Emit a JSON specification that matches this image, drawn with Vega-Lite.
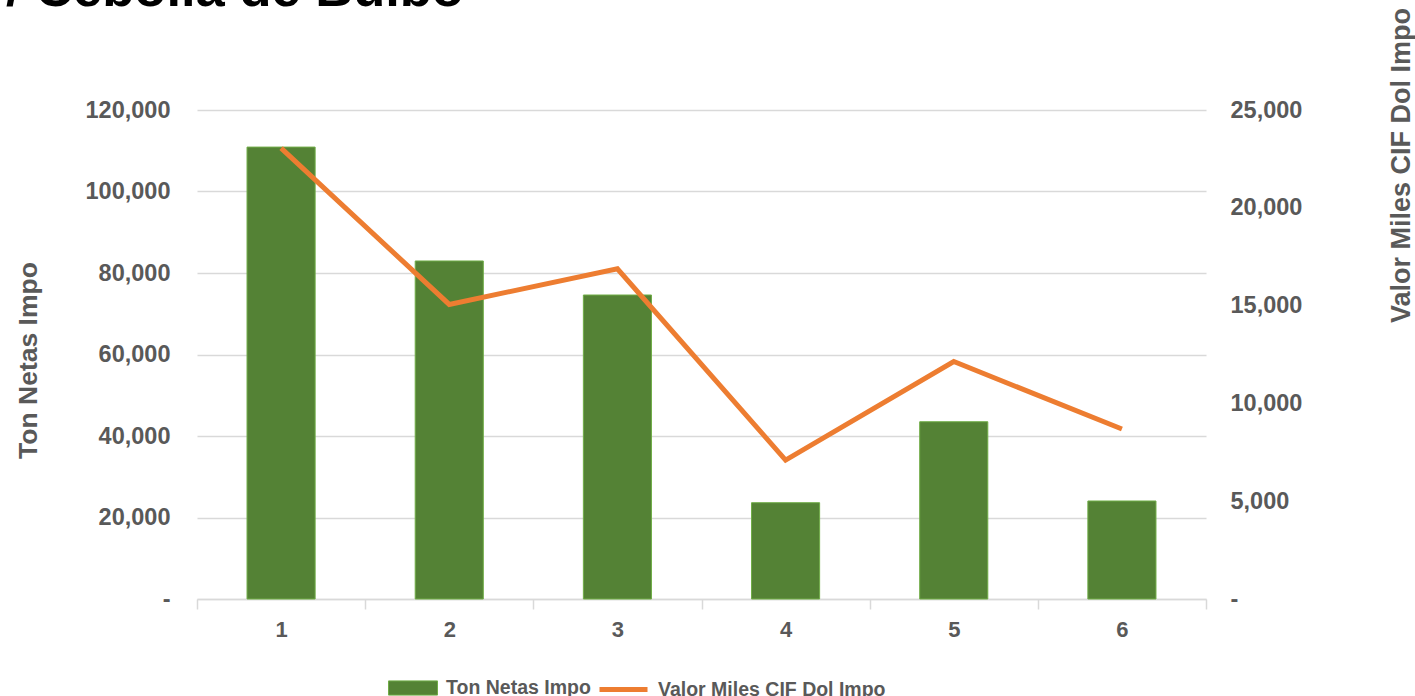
{
  "$schema": "https://vega.github.io/schema/vega-lite/v6.json",
  "width": 1009,
  "height": 489,
  "autosize": "none",
  "padding": {"left": 197, "top": 110, "right": 209, "bottom": 97},
  "background": "white",
  "title": {
    "text": "/ Cebolla de Bulbo",
    "anchor": "start",
    "frame": "group",
    "font": "Liberation Sans",
    "fontSize": 52.5,
    "fontWeight": "bold",
    "color": "#000000",
    "baseline": "alphabetic",
    "dx": -191,
    "dy": 54,
    "offset": 3
  },
  "config": {
    "font": "Liberation Sans",
    "view": {"stroke": null},
    "axis": {
      "labelFont": "Liberation Sans",
      "labelFontWeight": "bold",
      "labelColor": "#595959",
      "titleFont": "Liberation Sans",
      "titleFontWeight": "bold",
      "titleColor": "#595959"
    }
  },
  "data": {
    "values": [
      {"mes": "1", "ton": 110900, "valor": 23050},
      {"mes": "2", "ton": 82950, "valor": 15060},
      {"mes": "3", "ton": 74600, "valor": 16880},
      {"mes": "4", "ton": 23630, "valor": 7100},
      {"mes": "5", "ton": 43500, "valor": 12140},
      {"mes": "6", "ton": 24050, "valor": 8690}
    ]
  },
  "encoding": {
    "x": {
      "field": "mes",
      "type": "ordinal",
      "scale": {"paddingInner": 0, "paddingOuter": 0},
      "axis": {
        "title": null,
        "labelAngle": 0,
        "labelFontSize": 22,
        "labelPadding": 10,
        "tickBand": "extent",
        "tickSize": 10,
        "tickColor": "#d9d9d9",
        "tickWidth": 1.5,
        "domainColor": "#d9d9d9",
        "domainWidth": 1.5,
        "grid": false
      }
    }
  },
  "layer": [
    {
      "mark": {"type": "bar", "width": {"band": 0.405}, "stroke": "#70AD47", "strokeWidth": 1},
      "encoding": {
        "y": {
          "field": "ton",
          "type": "quantitative",
          "scale": {"domain": [0, 120000]},
          "axis": {
            "title": "Ton Netas Impo",
            "titleFontSize": 26.5,
            "titleAngle": 270,
            "titleX": -169,
            "titleY": 250,
            "titleAlign": "center",
            "titleBaseline": "middle",
            "values": [0, 20000, 40000, 60000, 80000, 100000, 120000],
            "labelExpr": "datum.value == 0 ? '-' : format(datum.value, ',')",
            "labelFontSize": 23.5,
            "labelPadding": 27,
            "ticks": false,
            "domain": false,
            "grid": true,
            "gridColor": "#d9d9d9",
            "gridWidth": 1.5
          }
        },
        "fill": {
          "datum": "Ton Netas Impo",
          "type": "nominal",
          "scale": {"range": ["#548235"]},
          "legend": {
            "orient": "none",
            "legendX": 191,
            "legendY": 553,
            "title": null,
            "symbolType": "M-1,-0.29H1V0.29H-1Z",
            "symbolSize": 2401,
            "symbolStrokeColor": "#70AD47",
            "symbolStrokeWidth": 1,
            "labelFont": "Liberation Sans",
            "labelFontSize": 19.5,
            "labelFontWeight": "bold",
            "labelColor": "#595959",
            "labelOffset": 8,
            "labelLimit": 0
          }
        }
      }
    },
    {
      "mark": {"type": "line", "strokeWidth": 5},
      "encoding": {
        "y": {
          "field": "valor",
          "type": "quantitative",
          "scale": {"domain": [0, 25000]},
          "axis": {
            "orient": "right",
            "title": "Valor Miles CIF Dol Impo",
            "titleFontSize": 27,
            "titleAngle": 270,
            "titleX": 195,
            "titleY": 55,
            "titleAlign": "center",
            "titleBaseline": "middle",
            "values": [0, 5000, 10000, 15000, 20000, 25000],
            "labelExpr": "datum.value == 0 ? '-' : format(datum.value, ',')",
            "labelFontSize": 23.5,
            "labelPadding": 24,
            "ticks": false,
            "domain": false,
            "grid": false
          }
        },
        "stroke": {
          "datum": "Valor Miles CIF Dol Impo",
          "type": "nominal",
          "scale": {"range": ["#ED7D31"]},
          "legend": {
            "orient": "none",
            "legendX": 400,
            "legendY": 553,
            "title": null,
            "symbolType": "stroke",
            "symbolSize": 2304,
            "symbolStrokeWidth": 5,
            "labelFont": "Liberation Sans",
            "labelFontSize": 19.5,
            "labelFontWeight": "bold",
            "labelColor": "#595959",
            "labelOffset": 8,
            "labelLimit": 0
          }
        }
      }
    }
  ],
  "resolve": {"scale": {"y": "independent"}}
}
